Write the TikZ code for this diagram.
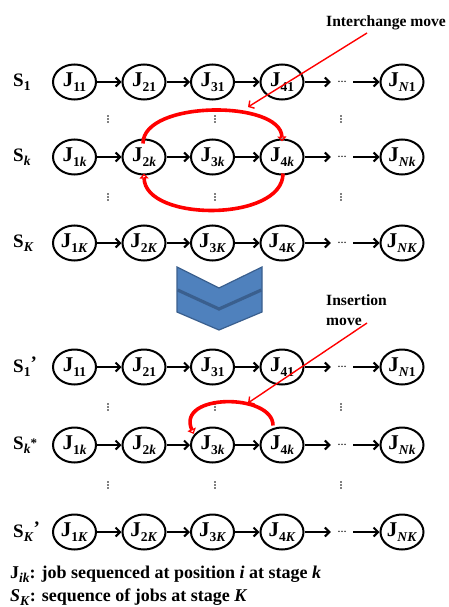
\documentclass[tikz,border=0pt]{standalone}
\usepackage{fontspec}
\setmainfont{Liberation Serif}
\usetikzlibrary{shapes.geometric,arrows.meta}
\definecolor{chevfill}{HTML}{4F81BD}
\definecolor{chevedge}{HTML}{3A5F8E}
\newcommand{\jsub}[1]{\raisebox{-0.5ex}{\fontsize{13.5}{13.5}\selectfont #1}}
\tikzset{
  job/.style={ellipse, draw, line width=2pt, minimum width=43pt, minimum height=35pt,
    inner sep=0pt, font=\fontsize{21}{21}\selectfont\bfseries},
  gap/.style={minimum width=22pt, inner sep=0pt, font=\fontsize{9}{9}\selectfont\bfseries},
  rowlabel/.style={anchor=west, inner sep=0pt, font=\fontsize{19}{19}\selectfont\bfseries},
  flow/.style={line width=2pt, -{Straight Barb[length=4.5pt,width=9pt]}},
  move/.style={draw=red, line width=3.6pt, -{Triangle[open,length=5pt,width=9pt,line width=1.6pt]}},
  pointer/.style={draw=red, line width=1.4pt, -{Straight Barb[length=4pt,width=9pt]}},
  note/.style={anchor=base west, inner sep=0pt, font=\fontsize{15.6}{15.6}\selectfont\bfseries},
  legend/.style={anchor=base west, inner sep=0pt, font=\fontsize{18}{18}\selectfont\bfseries}
}
% one sequence row: #1 = name prefix, #2 = y, #3 = stage subscript, #4 = label, #5 = last subscript
\newcommand{\seqrow}[5]{%
  \node[rowlabel] (#1l) at (13,#2) {#4};
  \node[job] (#1a) at (74.5,#2) {J\jsub{1#3}};
  \node[job] (#1b) at (144,#2) {J\jsub{2#3}};
  \node[job] (#1c) at (212.5,#2) {J\jsub{3#3}};
  \node[job] (#1d) at (282,#2) {J\jsub{4#3}};
  \node[gap] (#1g) at (342,#2) {…};
  \node[job] (#1n) at (402,#2) {J\jsub{\textit{N}#5}};
  \draw[flow] (#1a) -- (#1b);
  \draw[flow] (#1b) -- (#1c);
  \draw[flow] (#1c) -- (#1d);
  \draw[flow] (#1d) -- (#1g);
  \draw[flow] (#1g) -- (#1n);
}
% three stacked dots
\newcommand{\stackdots}[2]{%
  \foreach \dd in {-3,0,3}{\fill (#1,#2+\dd) circle (0.8pt);}
}
\begin{document}
\begin{tikzpicture}[x=1pt,y=-1pt]
\useasboundingbox (0,0) rectangle (449,607);

\seqrow{p}{82}{1}{S\jsub{1}}{1}
\seqrow{q}{157}{\textit{k}}{S\jsub{\textit{k}}}{\textit{k}}
\seqrow{r}{243}{\textit{K}}{S\jsub{\textit{K}}}{\textit{K}}
\seqrow{s}{367}{1}{S\jsub{1}\raisebox{0.3ex}{’}}{1}
\seqrow{t}{445}{\textit{k}}{S\jsub{\textit{k}}\raisebox{0.2ex}{\fontsize{13}{13}\selectfont*}}{\textit{k}}
\seqrow{u}{532}{\textit{K}}{S\jsub{\textit{K}}\raisebox{0.3ex}{’}}{\textit{K}}

% vertical ellipses between rows
\foreach \yy in {119,197,407,485}{
  \stackdots{108}{\yy}
  \stackdots{215}{\yy}
  \stackdots{341}{\yy}
}

% double chevron
\fill[chevfill, draw=chevedge, line width=1.2pt]
  (177,267) -- (219,288) -- (262,267) -- (262,312) -- (219,330) -- (177,312) -- cycle;
\draw[chevedge, line width=3.2pt] (177.6,290) -- (219,309) -- (261.4,290);

% interchange move
\node[note] (inter) at (326,27) {Interchange move};
\coordinate (interfrom) at (367,33);
\coordinate (interto) at (248,107);
\draw[pointer] (interfrom) -- (interto);
\draw[move] ([xshift=-1pt,yshift=-5pt]qb.north)
  .. controls (143,100) and (281,100) .. ([yshift=-3pt]qd.north);
\draw[move] ([xshift=1pt,yshift=2pt]qd.south)
  .. controls (283,222) and (145,222) .. ([yshift=2pt]qb.south);

% insertion move
\node[note] (ins1) at (326,305) {Insertion};
\node[note] (ins2) at (326,325) {move};
\coordinate (insfrom) at (367,323);
\coordinate (insto) at (248,403);
\draw[pointer] (insfrom) -- (insto);
\draw[move] ([xshift=-9pt,yshift=1pt]td.north)
  .. controls (273,393) and (176,393) .. ([xshift=-3pt,yshift=-2pt]tc.north west);

% legend
\node[legend] (leg1) at (10,578) {J\jsub{\textit{ik}}: job sequenced at position \textit{i} at stage \textit{k}};
\node[legend] (leg2) at (10,601) {\textit{S}\jsub{\textit{K}}: sequence of jobs at stage \textit{K}};
\end{tikzpicture}
\end{document}
